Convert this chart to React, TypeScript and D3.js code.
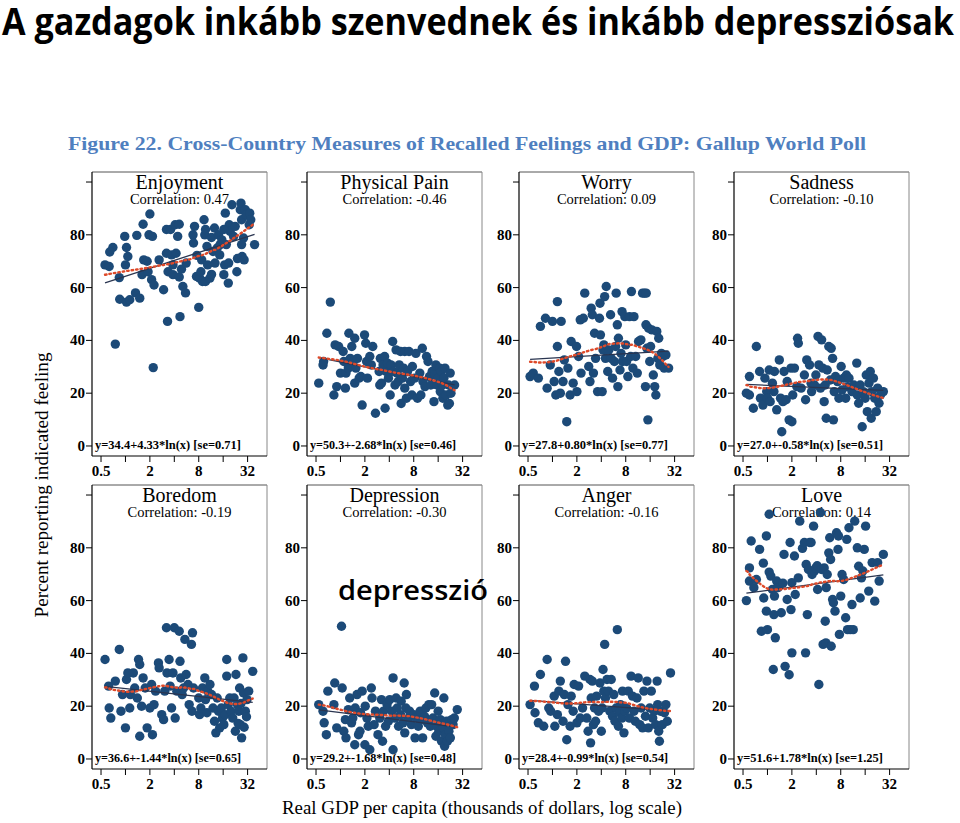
import React from "react";
import * as d3 from "d3";

// ---------- DATA ----------
const panelTitles = ["Enjoyment", "Physical Pain", "Worry", "Sadness", "Boredom", "Depression", "Anger", "Love"];
const correlations = ["0.47", "-0.46", "0.09", "-0.10", "-0.19", "-0.30", "-0.16", "0.14"];
const intercepts = [34.4, 50.3, 27.8, 27.0, 36.6, 29.2, 28.4, 51.6];
const slopes = [4.33, -2.68, 0.8, -0.58, -1.44, -1.68, -0.99, 1.78];
const stdErrors = ["0.71", "0.46", "0.77", "0.51", "0.65", "0.48", "0.54", "1.25"];
const xTicks = [0.5, 1, 2, 4, 8, 16, 32];
const xTickLabels = [0.5, 2, 8, 32];
const yTicks = [0, 20, 40, 60, 80, 100];
const yTickLabels = [0, 20, 40, 60, 80];

// [GDP per capita (thousands $), percent reporting]
const enjoyment = [
  [0.56,68.6],[0.63,68],[0.7,75.2],[0.64,73.5],[0.84,63.8],[0.75,38.6],[0.85,55.6],[0.98,79.4],[1.03,75.2],[1.0,68.6],
  [1.07,71.8],[1.03,54.5],[1.13,55.4],[1.38,79.8],[1.33,58],[1.5,56],[1.65,84],[1.68,70.5],[1.6,64.9],[1.85,70],
  [1.95,80],[2.0,87.9],[2.15,79.4],[1.9,66],[2.1,63],[2.25,61],[2.2,29.7],[2.6,70.5],[2.95,59.2],[3.2,82],
  [3.2,73],[3.3,47.2],[3.35,66],[3.6,82],[3.7,72.4],[3.85,68.6],[3.85,64.9],[4.1,83.8],[4.4,79.4],[4.6,84],
  [4.2,73],[4.7,49],[4.6,64],[4.9,67],[5.1,60.4],[5.5,58],[5.6,69.3],[6.8,80],[6.9,76.9],[7.1,83.2],
  [7.5,64.2],[7.6,72.2],[8.0,52.5],[8.2,63.6],[8.5,66],[8.7,70.5],[9.3,85.7],[9.5,80],[9.7,82],[8.9,62.3],
  [9.7,62.3],[10.1,75.6],[10.3,68.6],[11,63.6],[11.5,79],[11.5,65],[12,73.7],[12.5,82.6],[12.7,69.3],[14,80],
  [13.5,75],[14.5,72.4],[14.7,76.3],[15.4,78.1],[16.3,64.9],[17,88.2],[16.7,68.6],[17.5,76.3],[18.5,61.7],[19,83.8],
  [19.5,81.3],[18.7,69.3],[20.5,91.4],[21.5,79.4],[22.5,83.2],[23.6,66],[24,71],[26,89.5],[26.5,92],[27,85.7],
  [27.4,71.8],[28.5,78.8],[29,70.5],[30,89.5],[30.6,87.6],[33.5,83.8],[34,88.2],[35,85.7],[39,76.3],[27,76.3],[16.3,82]
];
const physicalPain = [
  [0.54,23.8],[0.61,30.7],[0.62,32],[0.75,54.5],[0.68,42.7],[0.83,19.3],[0.86,38.3],[0.95,37.7],[0.9,22.5],[1.0,27.6],
  [1.08,35.8],[1.1,32],[1.15,21.9],[1.17,27.6],[1.25,29.5],[1.27,42.7],[1.32,33.2],[1.38,37.7],[1.44,32],[1.5,40.8],
  [1.5,23.8],[1.55,29.5],[1.62,33.2],[1.7,25.7],[1.78,26.3],[1.85,15.5],[1.98,42.1],[2.05,38.9],[2.1,32],[2.15,25.7],
  [2.3,33.9],[2.4,30.7],[2.5,37.7],[2.7,12.4],[3.0,28.2],[3.05,23.1],[3.1,33.2],[3.2,23.8],[3.35,30.7],[3.5,33.9],
  [3.55,14.3],[3.65,28.2],[3.8,31.4],[3.9,25.7],[4.1,19.3],[4.2,30.7],[4.4,39.6],[4.5,28.2],[4.7,23.1],[4.85,36.4],
  [5.0,27.6],[5.15,24.4],[5.3,30.7],[5.5,35.8],[5.6,16.1],[5.8,25.7],[6.0,29.5],[6.2,21.9],[6.2,35.8],[6.5,18.1],
  [6.7,28.2],[7.0,35.8],[7.3,24.4],[7.6,19.3],[7.7,30.1],[8.2,25.7],[8.5,35.1],[8.9,18.1],[9.5,27.6],[9.8,19.3],
  [10.2,37],[10.4,24.4],[11,22.5],[11.5,33.9],[12,32],[12.5,26.3],[13,23.1],[13.5,28.2],[14.2,16.8],[14.5,27],
  [15,30.7],[15.5,23.1],[16,25.7],[16.7,29.5],[17,20.6],[17.5,28.2],[18,23.1],[18.3,18.1],[18.8,25.7],[19.4,29.5],
  [20,19.3],[21,15.5],[21.5,23.1],[22,16.1],[22.5,27.6],[23,20],[25.5,23.1]
];
const worry = [
  [0.53,26.3],[0.58,27.6],[0.67,25.7],[0.71,45.3],[0.82,48.4],[0.86,21.9],[0.94,30.7],[1.0,47.2],[1.05,24.4],[1.1,19.3],
  [1.15,54.7],[1.15,37.7],[1.2,28.2],[1.25,20],[1.28,47.2],[1.35,24.4],[1.4,32.6],[1.5,9.2],[1.55,29.5],[1.65,19.3],
  [1.7,39.6],[1.8,23.8],[1.98,37.7],[2.0,20.6],[2.1,33.9],[2.2,47.8],[2.25,27.6],[2.5,57.9],[2.4,48.4],[2.8,30.1],
  [2.9,24.4],[3.0,52.2],[3.1,49.7],[3.2,27.6],[3.3,42.7],[3.4,33.2],[3.6,20.6],[3.8,48.4],[3.85,54.1],[3.9,42.1],
  [4.1,20.6],[4.2,36.4],[4.3,38.3],[4.4,56.6],[4.5,33.2],[4.6,60.4],[4.8,28.2],[4.95,36.4],[5.2,49.7],[5.3,33.2],
  [5.5,25.7],[5.8,32],[6.0,37.7],[6.1,57.9],[6.3,45.9],[6.4,22.5],[6.5,40.8],[6.8,28.8],[7.0,35.1],[7.2,50.9],
  [7.3,32],[7.8,49],[8.0,38.3],[8.2,32],[8.5,26.3],[8.9,49],[9.2,33.9],[9.4,58.5],[9.8,29.5],[10.1,49],
  [10.6,33.9],[11.1,27.6],[11.5,39.6],[12.3,40.2],[12.9,57.9],[13.6,57.9],[14.3,57.9],[14,22.5],[14.2,45.9],[14.6,37],
  [15,9.9],[15.3,44.6],[15.8,32],[16.2,37.7],[16.8,44],[17.5,26.9],[18.2,22.5],[18.8,19.3],[19.3,43.4],[19.9,33.2],
  [20.4,40.8],[21,30.7],[22,35.1],[23,33.9],[23.8,29.5],[25,34.5],[27,29.5]
];
const sadness = [
  [0.55,20],[0.6,19.3],[0.6,26.3],[0.67,14.3],[0.73,37.7],[0.8,28.2],[0.82,18.1],[0.88,15.5],[0.93,25.7],[0.98,20.6],
  [1.0,18.1],[1.05,28.8],[1.08,16.8],[1.15,23.8],[1.2,20.6],[1.22,28.2],[1.3,13.7],[1.4,32.6],[1.45,18.1],[1.5,5.4],
  [1.55,16.8],[1.6,28.2],[1.7,17.5],[1.75,24.4],[1.85,9.9],[1.95,29.5],[2.0,9.2],[2.05,19.3],[2.15,29.5],[2.3,22.5],
  [2.35,40.8],[2.4,38.9],[2.6,21.9],[2.85,26.9],[2.95,17.5],[3.05,32.6],[3.3,30.7],[3.45,23.8],[3.5,20.6],[3.8,23.1],
  [3.95,26.9],[4.2,41.5],[4.3,30.7],[4.5,21.9],[4.65,40.2],[4.8,29.5],[5.0,16.8],[5.15,23.1],[5.3,10.5],[5.45,28.8],
  [5.7,37.7],[5.95,25],[6.1,37],[6.35,33.2],[6.5,9.9],[6.65,20.6],[6.9,26.3],[7.3,24.4],[7.6,18.1],[8.1,30.1],
  [8.3,21.2],[8.7,25.7],[9.2,18.1],[9.4,26.9],[9.7,22.5],[10.1,25.7],[11,20.6],[11.6,23.1],[12.6,31.4],[12.8,19.3],
  [13.3,16.2],[13.9,23.1],[14.7,7.3],[15.2,20.6],[16,18.1],[16.5,26.9],[17,13],[17.8,23.8],[18.5,28.2],[19,10.5],
  [19.3,20.6],[20.2,25.7],[21,18.1],[21.9,13],[22.8,21.9],[23.7,16.2],[24.7,19.3],[26.8,20.6]
];
const boredom = [
  [0.56,37.7],[0.62,27.6],[0.63,19.3],[0.66,15.5],[0.75,29.5],[0.84,41.5],[0.88,18.1],[0.92,24.4],[1.0,11.8],[1.03,30.1],
  [1.07,32.6],[1.13,19.3],[1.15,24.4],[1.25,32.6],[1.3,26.9],[1.4,23.1],[1.45,37.7],[1.5,8.6],[1.5,35.8],[1.58,20],
  [1.65,30.7],[1.75,26.9],[1.85,11.8],[2.0,19.3],[2.1,28.2],[2.15,9.2],[2.25,20.6],[2.35,25.7],[2.55,36.4],[2.6,34.5],
  [2.8,16.8],[2.95,14.9],[3.05,25.7],[3.2,49.7],[3.25,32.6],[3.45,37.7],[3.55,27.6],[3.7,19.3],[3.85,32.6],[4.0,49.7],
  [4.1,15.5],[4.3,25.7],[4.6,48.4],[4.7,37],[4.8,30.7],[5.0,24.4],[5.2,26.9],[5.4,45.3],[5.6,32],[5.9,28.2],
  [6.1,20.6],[6.5,43.4],[6.6,18.1],[6.7,47.8],[6.9,26.9],[8.0,23.1],[8.2,16.8],[8.5,19.3],[8.9,26.9],[9.5,30.7],
  [9.7,22.5],[10.1,17.5],[10.3,25.7],[11,28.2],[11.5,24.4],[12,19.3],[12.5,14.3],[13,9.9],[13.5,23.1],[14,18.1],
  [14.5,11.8],[15.2,19.3],[15.7,15.5],[16.3,13],[17,16.8],[17.7,37.7],[17.7,31.4],[18.5,20.6],[19.3,23.1],[20,18.1],
  [21,15.5],[21.8,23.1],[22.6,10.5],[23,32],[24,20.6],[25,18.1],[25.5,26.9],[26,13],[27,8],[28,38.3],
  [28.5,25],[30,18.1],[31.5,22.5],[33,25.7],[37,33.2],[24.5,13.5],[29,12],[26.5,21],[31,16]
];
const depression = [
  [0.54,20.6],[0.61,18.1],[0.63,13.7],[0.67,9.2],[0.7,25.7],[0.83,20.6],[0.85,28.8],[0.9,11.8],[1.03,50.3],[1.05,26.9],
  [1.1,10.5],[1.15,14.9],[1.17,8],[1.25,18.7],[1.3,23.1],[1.37,13.7],[1.42,15.5],[1.5,5.4],[1.52,19.3],[1.6,24.4],
  [1.67,9.2],[1.74,10.5],[1.77,17.5],[1.85,25.7],[2.0,5.4],[2.02,20],[2.12,15.5],[2.2,12.4],[2.3,3.5],[2.4,26.9],
  [2.45,23.1],[2.6,13],[2.7,18.1],[2.9,9.2],[3.05,15.5],[3.2,22.5],[3.3,6.7],[3.4,18.1],[3.6,12.4],[3.75,20.6],
  [3.9,14.3],[4.05,22.5],[4.3,18.1],[4.45,30.7],[4.45,3.5],[4.7,15.5],[4.85,23.1],[5.0,19.3],[5.2,12.4],[5.5,16.8],
  [5.6,21.9],[5.9,13.7],[6.1,28.8],[6.2,9.9],[6.4,19.3],[6.5,24.4],[6.9,15.5],[7.1,18.1],[7.5,13],[8.0,16.8],
  [8.3,8],[8.6,15.5],[9.1,12.4],[9.6,18.1],[9.9,14.9],[10.3,8],[10.9,16.1],[11.3,19.3],[11.8,13.7],[12.3,20.6],
  [12.8,12.4],[13.3,20.6],[13.8,15.5],[14.5,25],[15,8.6],[15.4,12.4],[16,18.1],[16.3,10.5],[17,14.9],[17.6,6.7],
  [18.5,11.8],[18.8,23.1],[19.2,4.8],[19.6,9.2],[20.3,14.3],[20.8,6.7],[21.7,10.5],[22.6,8],[23.5,14.9],[24.4,13],
  [25.3,15.5],[27.5,18.7]
];
const anger = [
  [0.53,20.6],[0.6,27.6],[0.61,17.5],[0.67,13.7],[0.71,32],[0.78,12.4],[0.86,37.7],[0.9,19.3],[0.95,18.1],[1.05,23.8],
  [1.07,12.4],[1.15,16.8],[1.2,25.7],[1.25,29.5],[1.35,14.3],[1.4,24.4],[1.45,37],[1.5,7.3],[1.55,20.6],[1.65,12.4],
  [1.7,23.8],[1.8,18.1],[1.85,28.2],[2.0,13.7],[2.1,27.6],[2.2,15.5],[2.35,19.3],[2.5,31.4],[2.65,15.5],[2.75,10.5],
  [2.9,30.1],[2.95,6.1],[3.0,23.1],[3.1,29.5],[3.2,13],[3.3,19.3],[3.4,14.3],[3.5,23.8],[3.7,18.1],[3.85,28.8],
  [4.0,10.5],[4.1,19.3],[4.2,33.9],[4.3,25.7],[4.4,43.4],[4.5,23.1],[4.7,30.1],[4.9,25.7],[5.1,18.1],[5.3,30.1],
  [5.5,16.2],[5.7,24.4],[5.9,14.3],[6.1,19.3],[6.3,49],[6.5,12.4],[6.7,17.5],[6.9,20.6],[7.2,15.5],[7.3,25.7],
  [7.6,9.9],[7.8,18.1],[8.2,19.3],[8.6,25.7],[8.9,15.5],[9.3,31.4],[9.7,23.8],[10.1,18.1],[10.5,14.3],[11,23.1],
  [11.4,30.7],[11.9,13],[12.4,19.3],[12.9,11.8],[13.4,25.7],[14,16.2],[14.6,29.5],[15.2,11.8],[15.8,19.3],[16.5,25.7],
  [17.2,15.5],[17.9,18.1],[18.7,13],[19.5,29.5],[19.8,20.6],[20.4,10.5],[20.8,6.7],[21.5,18.1],[22.6,13],[24,17.5],
  [25,20.6],[26,14.3],[28.5,32.6]
];
const love = [
  [0.55,60],[0.6,67.4],[0.6,72.4],[0.63,82.6],[0.68,64.9],[0.73,68],[0.8,79.4],[0.84,48.4],[0.89,74.2],[0.9,61],
  [0.97,84.5],[0.97,56],[1.0,49],[1.05,92.7],[1.05,70.8],[1.1,69.3],[1.15,64.2],[1.18,33.9],[1.2,54.7],[1.22,61.7],
  [1.25,45.9],[1.3,67.4],[1.35,64.9],[1.48,55.4],[1.55,66.6],[1.6,77.5],[1.65,35.1],[1.75,60.4],[1.85,31.9],[1.9,82],
  [1.95,56.6],[2.0,66.8],[2.0,40.2],[2.15,76.9],[2.2,62.3],[2.4,68.6],[2.5,90.1],[2.7,79.8],[2.85,82],[2.95,40.2],
  [3.0,73.7],[3.1,54.7],[3.2,71.8],[3.3,82],[3.45,82],[3.55,69.9],[3.7,88.2],[3.8,71.2],[3.95,72.4],[4.1,73.2],
  [4.15,64.2],[4.3,28.2],[4.5,93.4],[4.65,71.8],[4.85,43.4],[5.0,72.4],[5.15,52.2],[5.25,44],[5.3,64.9],[5.45,69.9],
  [5.7,78.1],[5.85,83.8],[6.0,75.6],[6.1,42.7],[6.35,60.4],[6.5,59.2],[6.8,56],[7.1,85.7],[7.4,79.4],[7.5,84.5],
  [7.7,47.2],[8.0,61.7],[8.3,69.9],[8.7,68],[9.2,53.5],[9.5,83.2],[9.7,49],[10.1,87.6],[10.5,49],[11,58.5],
  [11.4,49],[11.9,90.1],[12.8,80],[13.3,73],[13.9,61],[14.4,68.6],[15.6,79.4],[16.2,88.2],[15,71.2],[17.7,63.6],
  [19.5,74.4],[21,59.8],[22.8,74.4],[23.8,67.4],[26.8,77.5]
];
const panelData = [enjoyment, physicalPain, worry, sadness, boredom, depression, anger, love];

// ---------- LAYOUT ----------
const W = 960, H = 823;
const colLefts = [92, 307, 519, 734];
const rowTops = [172, 485];
const PW = 175, PH = 284;
const SERIF = "'Liberation Serif', 'Times New Roman', serif";
const SANS = "'Open Sans', 'Noto Sans', sans-serif";
const DOT = "#1c4a78";

// Stata-style lowess (bwidth 0.8, tricube weights, local linear, on ln x)
function lowess(points: number[][], bwidth = 0.8) {
  const s = points.map(p => [Math.log(p[0]), p[1], p[0]]).sort((a, b) => a[0] - b[0]);
  const n = s.length;
  const k = Math.floor((n * bwidth - 0.5) / 2);
  return s.map((pi, i) => {
    const lo = Math.max(0, i - k), hi = Math.min(n - 1, i + k);
    const delta = 1.0001 * Math.max(s[hi][0] - pi[0], pi[0] - s[lo][0]) || 1;
    let sw = 0, sx = 0, sy = 0, sxx = 0, sxy = 0;
    for (let j = lo; j <= hi; j++) {
      const u = Math.abs(s[j][0] - pi[0]) / delta;
      if (u >= 1) continue;
      const w = Math.pow(1 - u * u * u, 3);
      sw += w; sx += w * s[j][0]; sy += w * s[j][1];
      sxx += w * s[j][0] * s[j][0]; sxy += w * s[j][0] * s[j][1];
    }
    const mx = sx / sw, my = sy / sw;
    const vx = sxx / sw - mx * mx;
    const b = vx > 1e-12 ? (sxy / sw - mx * my) / vx : 0;
    return [pi[2], my + b * (pi[0] - mx)];
  });
}

function Panel({ idx }: { idx: number }) {
  const left = colLefts[idx % 4];
  const top = rowTops[Math.floor(idx / 4)];
  const data = panelData[idx];
  const x = d3.scaleLog().domain([0.387, 55.5]).range([left, left + PW]);
  const y = d3.scaleLinear().domain([-3.8, 103.8]).range([top + PH, top]);
  const xmin = d3.min(data, d => d[0]) as number;
  const xmax = d3.max(data, d => d[0]) as number;
  const fit = (g: number) => intercepts[idx] + slopes[idx] * Math.log(g * 1000);
  const fitLine = d3.line<number>().x(g => x(g)).y(g => y(fit(g)));
  const low = lowess(data);
  const lowLine = d3.line<number[]>().x(d => x(d[0])).y(d => y(d[1])).curve(d3.curveMonotoneX);
  const bottom = top + PH;
  const eq = `y=${intercepts[idx].toFixed(1)}+${slopes[idx].toFixed(2)}*ln(x) [se=${stdErrors[idx]}]`;
  return (
    <g>
      {/* frame */}
      <line x1={left} x2={left + PW} y1={top} y2={top} stroke="#555" strokeWidth={1} />
      <line x1={left + PW} x2={left + PW} y1={top} y2={bottom} stroke="#888" strokeWidth={1} />
      <line x1={left} x2={left} y1={top} y2={bottom} stroke="#000" strokeWidth={1.2} />
      <line x1={left} x2={left + PW} y1={bottom} y2={bottom} stroke="#000" strokeWidth={1.2} />
      {/* y ticks */}
      {yTicks.map(t => (
        <line key={"yt" + t} x1={left - 6} x2={left} y1={y(t)} y2={y(t)} stroke="#000" strokeWidth={1} />
      ))}
      {yTickLabels.map(t => (
        <text key={"yl" + t} x={left - 7} y={y(t) + 5} textAnchor="end" fontFamily={SERIF}
          fontWeight="bold" fontSize={15}>{t}</text>
      ))}
      {/* x ticks */}
      {xTicks.map(t => (
        <line key={"xt" + t} x1={x(t)} x2={x(t)} y1={bottom} y2={bottom + 6} stroke="#000" strokeWidth={1} />
      ))}
      {xTickLabels.map(t => (
        <text key={"xl" + t} x={x(t)} y={bottom + 20} textAnchor="middle" fontFamily={SERIF}
          fontWeight="bold" fontSize={15}>{t}</text>
      ))}
      {/* titles */}
      <text x={left + PW / 2} y={top + 17} textAnchor="middle" fontFamily={SERIF} fontSize={20}>{panelTitles[idx]}</text>
      <text x={left + PW / 2} y={top + 32} textAnchor="middle" fontFamily={SERIF} fontSize={14.5}>
        {"Correlation: " + correlations[idx]}</text>
      {/* points */}
      {data.map((d, i) => (
        <circle key={i} cx={x(d[0])} cy={y(d[1])} r={4.7} fill={DOT} />
      ))}
      {/* linear fit */}
      <path d={fitLine([xmin, xmax]) as string} fill="none" stroke="#2a3550" strokeWidth={1.3} />
      {/* lowess */}
      <path d={lowLine(low) as string} fill="none" stroke="#de4a2a" strokeWidth={2.4}
        strokeDasharray="1.5 3" strokeLinecap="round" />
      {/* equation */}
      <text x={left + 3} y={top + PH - 7} fontFamily={SERIF} fontWeight="bold" fontSize={12}
        textLength={146} lengthAdjust="spacingAndGlyphs">{eq}</text>
    </g>
  );
}

export default function App() {
  return (
    <svg width={W} height={H} style={{ position: "absolute", left: 0, top: 0, background: "#fff" }}>
      <rect x={0} y={0} width={W} height={H} fill="#fff" />
      <text x={2} y={35} fontFamily={SANS} fontWeight="bold" fontSize={37}
        textLength={952} lengthAdjust="spacingAndGlyphs">A gazdagok inkább szenvednek és inkább depressziósak</text>
      <text x={68} y={150} fontFamily={SERIF} fontWeight="bold" fontSize={19} fill="#4f7fbf"
        textLength={798} lengthAdjust="spacingAndGlyphs">
        Figure 22. Cross-Country Measures of Recalled Feelings and GDP: Gallup World Poll</text>
      {panelData.map((_, i) => <Panel key={i} idx={i} />)}
      <text transform="translate(48,485) rotate(-90)" textAnchor="middle" fontFamily={SERIF} fontSize={18}
        textLength={265} lengthAdjust="spacingAndGlyphs">Percent reporting indicated feeling</text>
      <text x={482} y={814} textAnchor="middle" fontFamily={SERIF} fontSize={18}
        textLength={400} lengthAdjust="spacingAndGlyphs">Real GDP per capita (thousands of dollars, log scale)</text>
      <text x={338} y={600} fontFamily={SANS} fontWeight={600} fontSize={27}
        textLength={150} lengthAdjust="spacingAndGlyphs">depresszió</text>
    </svg>
  );
}
